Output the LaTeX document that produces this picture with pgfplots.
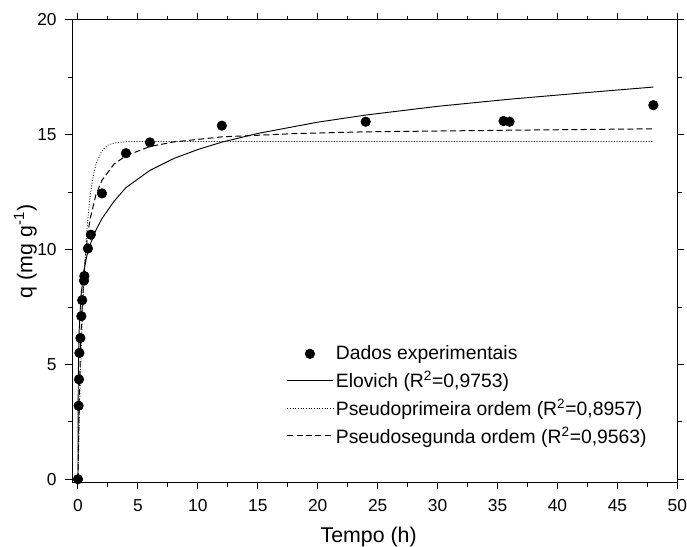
\documentclass[border=0pt]{standalone}
\usepackage{fontspec}
\setmainfont{Liberation Sans}
\usepackage{pgfplots}
\pgfplotsset{compat=1.18}

\begin{document}
\begin{tikzpicture}
\begin{axis}[
  scale only axis, width=454pt, height=347pt,
  xmin=-0.5, xmax=50, ymin=-0.15, ymax=20,
  xtick={0,5,...,50}, ytick={0,5,...,20},
  minor x tick num=1, minor y tick num=1,
  tick align=outside,
  major tick length=5pt, minor tick length=3.3pt,
  axis line style={line width=0.75pt},
  every tick/.style={black, line width=0.75pt},
  /pgf/number format/assume math mode=true,
  ticklabel style={font=\fontsize{13}{15}\selectfont},
  xticklabel style={anchor=north, yshift=-4pt},
  yticklabel style={anchor=east, xshift=-3pt},
  xlabel={Tempo (h)},
  ylabel={q (mg g\textsuperscript{-1})},
  xlabel style={font=\fontsize{16}{18}\selectfont, at={(axis description cs:0.49,0)}, anchor=center, yshift=-41pt},
  ylabel style={font=\fontsize{16}{18}\selectfont, at={(axis description cs:0,0.5)}, anchor=center, yshift=35pt},
  legend style={at={(rel axis cs:0.352,0.305)}, anchor=north west, draw=none, fill=none,
    font=\fontsize{14.5}{17}\selectfont, row sep=3pt, inner sep=1pt},
  legend cell align=left,
  legend image code/.code={\draw[mark repeat=2,mark phase=2,#1] plot coordinates {(0cm,0cm) (0.6cm,0cm) (1.2cm,0cm)};},
]
% dados experimentais
\addplot[only marks, mark=*, mark size=3.6pt, black] coordinates {
  (0,0) (0.05,3.2) (0.083,4.35) (0.117,5.5) (0.2,6.15) (0.28,7.1)
  (0.35,7.8) (0.5,8.65) (0.53,8.85) (0.83,10.05) (1.07,10.65)
  (2,12.45) (4,14.2) (6,14.67) (12,15.4) (24,15.57) (35.5,15.6) (36,15.57) (48,16.29)
};
\addlegendentry{Dados experimentais}

% Elovich
\addplot[black, line width=0.7pt] coordinates {
  (0,0) (0.01,3.0) (0.025,4.2) (0.05,5.4) (0.1,6.5) (0.25,8.0) (0.5,9.1)
  (0.75,9.75) (1,10.2) (1.5,10.85) (2,11.35) (3,12.1) (4,12.7) (6,13.45)
  (8,13.97) (10,14.36) (12,14.68) (15,15.06) (20,15.55) (24,15.86)
  (30,16.24) (36,16.55) (42,16.82) (48,17.08)
};
\addlegendentry{Elovich (R\textsuperscript{2}=0,9753)}

% pseudoprimeira ordem
\addplot[black, line width=0.6pt, dash pattern=on 0.7pt off 1.3pt] coordinates {
  (0,0) (0.1,2.42) (0.2,4.45) (0.3,6.13) (0.5,8.73) (0.75,10.9) (1,12.28)
  (1.25,13.16) (1.5,13.72) (2,14.31) (2.5,14.55) (3,14.64) (4,14.70) (5,14.71) (48,14.71)
};
\addlegendentry{Pseudoprimeira ordem (R\textsuperscript{2}=0,8957)}

% pseudosegunda ordem
\addplot[black, line width=0.75pt, dash pattern=on 4.5pt off 2.5pt] coordinates {
  (0,0) (0.1,3.36) (0.2,5.51) (0.3,7.01) (0.5,8.95) (0.75,10.4) (1,11.31)
  (1.5,12.4) (2,13.02) (3,13.72) (4,14.09) (6,14.49) (8,14.69) (12,14.91)
  (18,15.05) (24,15.13) (36,15.2) (48,15.26)
};
\addlegendentry{Pseudosegunda ordem (R\textsuperscript{2}=0,9563)}
\end{axis}
\pgfresetboundingbox
\path[use as bounding box] ([xshift=-54pt,yshift=-48pt]current axis.south west) rectangle ([xshift=7.25pt,yshift=15pt]current axis.north east);
\end{tikzpicture}
\end{document}
